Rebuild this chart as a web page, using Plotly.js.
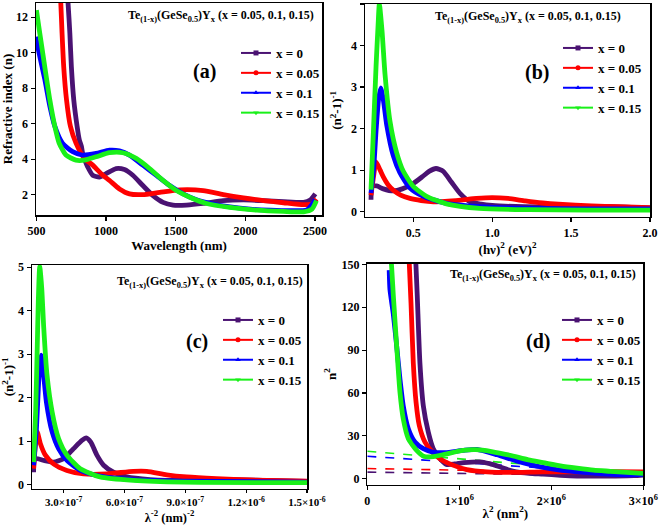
<!DOCTYPE html>
<html><head><meta charset="utf-8">
<script src="https://cdn.plot.ly/plotly-3.0.1.min.js"></script>
<style>html,body{margin:0;padding:0;background:#fff}#c{width:661px;height:525px}</style>
</head><body><div id="c"></div>
<script>
// ---------- data ----------
const seriesNames = ['x = 0', 'x = 0.05', 'x = 0.1', 'x = 0.15'];
const seriesColors = ['#4a1272', '#ff0000', '#0000ff', '#19f019'];
const seriesSymbols = ['square', 'circle', 'triangle-up', 'triangle-down'];

// (a) refractive index n vs wavelength (nm)
const a_lam0 = [718, 727, 740, 751, 768, 792, 808, 823, 832, 850, 868, 904, 952, 1000, 1072, 1132, 1192, 1264, 1337, 1409, 1481, 1577, 1697, 1841, 1986, 2130, 2274, 2418, 2466, 2502];
const a_n0   = [13.6, 12.8, 11.1, 9.2, 7.35, 5.85, 5.09, 4.72, 4.32, 3.9, 3.56, 3.09, 2.99, 3.18, 3.47, 3.41, 3.09, 2.51, 1.94, 1.56, 1.41, 1.41, 1.5, 1.66, 1.7, 1.66, 1.6, 1.56, 1.7, 2.04];
const a_lam1 = [668, 675, 684, 696, 716, 744, 784, 844, 904, 964, 1024, 1096, 1168, 1264, 1385, 1529, 1697, 1841, 1986, 2130, 2274, 2418, 2478, 2510];
const a_n1   = [13.8, 12.8, 11.1, 9.2, 7.35, 5.85, 4.9, 4.04, 3.66, 3.18, 2.8, 2.32, 2.04, 2.0, 2.13, 2.27, 2.23, 2.0, 1.81, 1.66, 1.54, 1.43, 1.47, 1.75];
const a_lam2 = [495, 524, 560, 596, 632, 687, 760, 832, 928, 1024, 1096, 1168, 1264, 1361, 1457, 1553, 1649, 1769, 1889, 2034, 2178, 2322, 2442, 2502];
const a_n2   = [10.9, 9.8, 8.5, 7.0, 5.85, 4.9, 4.42, 4.23, 4.32, 4.5, 4.46, 4.23, 3.66, 3.09, 2.51, 2.04, 1.71, 1.47, 1.31, 1.18, 1.12, 1.09, 1.14, 1.7];
const a_lam3 = [500, 524, 560, 596, 632, 663, 712, 784, 844, 928, 1024, 1120, 1216, 1312, 1409, 1505, 1601, 1721, 1889, 2082, 2274, 2418, 2478, 2510];
const a_n3   = [12.4, 11.1, 9.2, 7.35, 5.85, 4.9, 4.23, 3.94, 3.94, 4.13, 4.36, 4.36, 4.04, 3.47, 2.8, 2.23, 1.85, 1.5, 1.28, 1.12, 1.05, 1.03, 1.18, 1.66];

// (b) (n^2-1)^-1 vs (hv)^2 (eV)^2
const b_e0 = [0.232, 0.24, 0.268, 0.31, 0.373, 0.43, 0.5, 0.56, 0.6, 0.644, 0.69, 0.74, 0.796, 0.859, 0.93, 1.0, 1.2, 1.4, 1.6, 1.75, 1.9, 2.0];
const b_v0 = [0.29, 0.61, 0.62, 0.55, 0.5, 0.55, 0.68, 0.85, 0.97, 1.04, 0.97, 0.72, 0.44, 0.24, 0.18, 0.15, 0.12, 0.11, 0.12, 0.12, 0.1, 0.09];
const b_e1 = [0.232, 0.25, 0.264, 0.29, 0.31, 0.34, 0.373, 0.42, 0.479, 0.55, 0.627, 0.7, 0.8, 0.9, 1.0, 1.1, 1.21, 1.32, 1.42, 1.63, 1.8, 2.0];
const b_v1 = [0.4, 0.9, 1.2, 1.0, 0.84, 0.65, 0.52, 0.4, 0.32, 0.27, 0.24, 0.25, 0.28, 0.32, 0.34, 0.32, 0.26, 0.21, 0.18, 0.14, 0.12, 0.1];
const b_e2 = [0.232, 0.25, 0.265, 0.28, 0.294, 0.31, 0.332, 0.373, 0.415, 0.479, 0.563, 0.71, 0.92, 1.23, 1.6, 2.0];
const b_v2 = [0.45, 1.1, 2.0, 2.7, 2.98, 2.7, 2.08, 1.35, 0.94, 0.57, 0.37, 0.2, 0.12, 0.08, 0.07, 0.065];
const b_e3 = [0.232, 0.247, 0.264, 0.277, 0.285, 0.302, 0.321, 0.353, 0.394, 0.436, 0.5, 0.584, 0.71, 0.92, 1.23, 1.6, 2.0];
const b_v3 = [0.53, 1.9, 3.5, 4.5, 5.0, 4.35, 3.3, 2.16, 1.43, 0.98, 0.61, 0.37, 0.19, 0.08, 0.05, 0.04, 0.04];

// (c) (n^2-1)^-1 vs lambda^-2 (nm)^-2
const c_l0 = [1.52e-7, 1.59e-7, 2.02e-7, 2.5e-7, 3.0e-7, 3.49e-7, 3.9e-7, 4.11e-7, 4.34e-7, 4.64e-7, 4.97e-7, 5.46e-7, 6.11e-7, 7.26e-7, 9.72e-7, 1.136e-6, 1.3e-6, 1.5e-6];
const c_v0 = [0.29, 0.6, 0.56, 0.52, 0.6, 0.83, 1.02, 1.08, 0.98, 0.68, 0.45, 0.29, 0.18, 0.12, 0.1, 0.12, 0.1, 0.08];
const c_l1 = [1.52e-7, 1.69e-7, 1.85e-7, 2.1e-7, 2.5e-7, 3.16e-7, 3.98e-7, 5.13e-7, 6.44e-7, 7.1e-7, 8.08e-7, 9.07e-7, 1.054e-6, 1.218e-6, 1.5e-6];
const c_v1 = [0.37, 1.22, 0.95, 0.68, 0.48, 0.33, 0.25, 0.25, 0.31, 0.31, 0.23, 0.18, 0.14, 0.11, 0.085];
const c_l2 = [1.52e-7, 1.66e-7, 1.75e-7, 1.82e-7, 1.89e-7, 1.98e-7, 2.15e-7, 2.43e-7, 2.75e-7, 3.16e-7, 3.82e-7, 4.8e-7, 6.44e-7, 8.9e-7, 1.5e-6];
const c_v2 = [0.45, 1.3, 2.2, 2.75, 2.98, 2.68, 1.9, 1.22, 0.83, 0.56, 0.33, 0.2, 0.12, 0.085, 0.06];
const c_l3 = [1.52e-7, 1.62e-7, 1.69e-7, 1.75e-7, 1.82e-7, 1.92e-7, 2.02e-7, 2.18e-7, 2.43e-7, 2.75e-7, 3.16e-7, 3.82e-7, 4.8e-7, 6.44e-7, 8.9e-7, 1.5e-6];
const c_v3 = [0.52, 1.68, 2.98, 4.2, 5.02, 4.52, 3.6, 2.52, 1.68, 1.06, 0.68, 0.37, 0.18, 0.1, 0.06, 0.05];

// (d) n^2 vs lambda^2 (nm^2)
const d_l0 = [0.525e6, 0.543e6, 0.572e6, 0.609e6, 0.663e6, 0.717e6, 0.79e6, 0.86e6, 0.95e6, 1.05e6, 1.22e6, 1.33e6, 1.44e6, 1.53e6, 1.62e6, 1.76e6, 1.91e6, 2.1e6, 2.28e6, 2.5e6, 2.7e6, 2.9e6, 3.0e6];
const d_v0 = [155, 128, 81, 51, 32.6, 21, 14, 10, 10.3, 11.2, 11.8, 10.5, 8.3, 6.3, 4.8, 3.8, 3.2, 2.4, 1.9, 1.8, 1.9, 2.2, 2.6];
const d_l1 = [0.45e6, 0.475e6, 0.5e6, 0.53e6, 0.565e6, 0.627e6, 0.717e6, 0.8e6, 0.93e6, 1.08e6, 1.3e6, 1.55e6, 1.91e6, 2.28e6, 2.64e6, 3.0e6];
const d_v1 = [160, 123, 81, 53.5, 37.2, 25.6, 18, 13.5, 9.5, 6.4, 4.8, 4.4, 4.8, 4.8, 5.0, 4.8];
const d_l2 = [0.238e6, 0.246e6, 0.283e6, 0.319e6, 0.355e6, 0.391e6, 0.446e6, 0.518e6, 0.609e6, 0.72e6, 0.85e6, 1.04e6, 1.19e6, 1.41e6, 1.62e6, 1.91e6, 2.2e6, 2.49e6, 2.86e6, 3.0e6];
const d_v2 = [146, 132.6, 115, 93, 69.8, 51, 34.9, 25.6, 21, 18.5, 18.3, 19.8, 20.5, 16.8, 12.5, 8.0, 5.3, 3.8, 2.7, 3.0];
const d_l3 = [0.257e6, 0.264e6, 0.283e6, 0.319e6, 0.355e6, 0.391e6, 0.446e6, 0.536e6, 0.62e6, 0.72e6, 0.85e6, 1.04e6, 1.18e6, 1.35e6, 1.55e6, 1.75e6, 1.91e6, 2.1e6, 2.28e6, 2.46e6, 2.64e6, 2.82e6, 3.0e6];
const d_v3 = [155, 148.8, 128, 93, 60.5, 41.9, 28, 19.8, 15.5, 15.5, 17.2, 19.8, 20.3, 19, 16.4, 13.2, 11.3, 9, 7.4, 6, 5.2, 4.4, 3.7];
// (d) dashed linear fits
const d_fitX = [0, 3.0e6];
const d_fit0 = [4.6, 1.9];
const d_fit1 = [7.1, 3.8];
const d_fit2 = [15.7, 2.8];
const d_fit3 = [19.2, 3.3];

// tick labels
const c_tickVals = [3e-7, 6e-7, 9e-7, 1.2e-6, 1.5e-6];
const c_tickText = ['3.0×10<sup>-7</sup>', '6.0×10<sup>-7</sup>', '9.0×10<sup>-7</sup>', '1.2×10<sup>-6</sup>', '1.5×10<sup>-6</sup>'];
const d_tickVals = [0, 1e6, 2e6, 3e6];
const d_tickText = ['0', '1×10<sup>6</sup>', '2×10<sup>6</sup>', '3×10<sup>6</sup>'];
const compText = 'Te<sub>(1-x)</sub>(GeSe<sub>0.5</sub>)Y<sub>x</sub> (x = 0.05, 0.1, 0.15)';
const panelLabels = ['(a)', '(b)', '(c)', '(d)'];

// ---------- build ----------
const SERIF = 'Liberation Serif';
const panels = [
  {xs: [a_lam0, a_lam1, a_lam2, a_lam3], ys: [a_n0, a_n1, a_n2, a_n3]},
  {xs: [b_e0, b_e1, b_e2, b_e3], ys: [b_v0, b_v1, b_v2, b_v3]},
  {xs: [c_l0, c_l1, c_l2, c_l3], ys: [c_v0, c_v1, c_v2, c_v3]},
  {xs: [d_l0, d_l1, d_l2, d_l3], ys: [d_v0, d_v1, d_v2, d_v3]}
];
const fits = [d_fit0, d_fit1, d_fit2, d_fit3];
const traces = [];
panels.forEach((p, pi) => {
  const ax = pi === 0 ? '' : String(pi + 1);
  const lg = pi === 0 ? 'legend' : 'legend' + (pi + 1);
  if (pi === 3) {
    fits.forEach((f, si) => traces.push({
      x: d_fitX, y: f, xaxis: 'x4', yaxis: 'y4', mode: 'lines', showlegend: false,
      line: {color: seriesColors[si], width: 1.6, dash: 'dash'}, hoverinfo: 'skip'
    }));
  }
  p.xs.forEach((xv, si) => {
    traces.push({
      x: xv, y: p.ys[si], xaxis: 'x' + ax, yaxis: 'y' + ax, mode: 'lines',
      line: {color: seriesColors[si], width: 4.8, shape: 'spline', smoothing: 0.6},
      showlegend: false, legendgroup: 'g' + pi + si
    });
  });
  seriesNames.forEach((nm, si) => traces.push({
    x: [null], y: [null], xaxis: 'x' + ax, yaxis: 'y' + ax, mode: 'lines+markers', name: nm,
    legend: lg, legendgroup: 'g' + pi + si,
    line: {color: seriesColors[si], width: 2},
    marker: {color: seriesColors[si], symbol: seriesSymbols[si], size: 5}
  }));
});

const tickFont = {family: SERIF, size: 12, color: '#000', weight: 'bold'};
const titleFont = {family: SERIF, size: 13, color: '#000', weight: 'bold'};
function axis(extra) {
  return Object.assign({
    showline: true, mirror: true, linecolor: '#000', linewidth: 1.5,
    ticks: 'outside', ticklen: 4, tickwidth: 1.2, tickcolor: '#000',
    showgrid: false, zeroline: false, tickfont: tickFont, automargin: false
  }, extra);
}
const W = 661, H = 525;
const px = (a, b) => [a / W, b / W];
const py = (top, bot) => [1 - bot / H, 1 - top / H];

const legendBase = {bgcolor: 'rgba(0,0,0,0)', font: {family: SERIF, size: 13, color: '#000', weight: 'bold'},
  xanchor: 'left', yanchor: 'top', itemwidth: 30, tracegroupgap: 0};

const layout = {
  width: W, height: H, margin: {l: 0, r: 0, t: 0, b: 0},
  paper_bgcolor: '#fff', plot_bgcolor: '#fff', font: {family: SERIF, color: '#000', weight: 'bold'},
  xaxis: axis({domain: px(36, 322), anchor: 'y', range: [497, 2550], tickvals: [500, 1000, 1500, 2000, 2500],
    title: {text: 'Wavelength (nm)', font: titleFont, standoff: 2}}),
  yaxis: axis({domain: py(3, 215), anchor: 'x', range: [0.85, 12.8], tickvals: [2, 4, 6, 8, 10, 12],
    title: {text: 'Refractive index (n)', font: titleFont, standoff: 6}}),
  xaxis2: axis({domain: px(365, 650), anchor: 'y2', range: [0.194, 2.0], tickvals: [0.5, 1.0, 1.5, 2.0], tickformat: '.1f',
    title: {text: '(hν)<sup>2</sup> (eV)<sup>2</sup>', font: titleFont, standoff: 6}}),
  yaxis2: axis({domain: py(4, 216.7), anchor: 'x2', range: [-0.12, 5.0], tickvals: [0, 1, 2, 3, 4, 5],
    title: {text: '(n<sup>2</sup>-1)<sup>-1</sup>', font: titleFont, standoff: 6}}),
  xaxis3: axis({domain: px(32, 307), anchor: 'y3', range: [1.44e-7, 1.5e-6], tickvals: c_tickVals, ticktext: c_tickText,
    ticklen: 3, tickfont: {family: SERIF, size: 11, color: '#000', weight: 'bold'},
    title: {text: 'λ<sup>-2</sup> (nm)<sup>-2</sup>', font: {family: SERIF, size: 12.5, color: '#000', weight: 'bold'}, standoff: 5}}),
  yaxis3: axis({domain: py(265, 488.7), anchor: 'x3', range: [-0.09, 5.05], tickvals: [0, 1, 2, 3, 4, 5],
    title: {text: '(n<sup>2</sup>-1)<sup>-1</sup>', font: titleFont, standoff: 8}}),
  xaxis4: axis({domain: px(367.3, 643.3), anchor: 'y4', range: [0, 3.0e6], tickvals: d_tickVals, ticktext: d_tickText,
    title: {text: 'λ<sup>2</sup> (nm<sup>2</sup>)', font: titleFont, standoff: 2}}),
  yaxis4: axis({domain: py(263.7, 484.7), anchor: 'x4', range: [-4.2, 150.5], tickvals: [0, 30, 60, 90, 120, 150],
    title: {text: 'n<sup>2</sup>', font: titleFont, standoff: 2}}),
  legend: Object.assign({}, legendBase, {x: 236 / W, y: 1 - 38 / H}),
  legend2: Object.assign({}, legendBase, {x: 558 / W, y: 1 - 33 / H}),
  legend3: Object.assign({}, legendBase, {x: 218 / W, y: 1 - 305 / H}),
  legend4: Object.assign({}, legendBase, {x: 557 / W, y: 1 - 305 / H}),
  annotations: []
};
const compPos = [[0.98, 0.94], [0.905, 0.939], [0.993, 0.924], [0.98, 0.949]];
const labPos = [[0.59, 0.675], [0.602, 0.68], [0.599, 0.656], [0.62, 0.646]];
for (let i = 0; i < 4; i++) {
  const ax = i === 0 ? '' : String(i + 1);
  layout.annotations.push({xref: 'x' + ax + ' domain', yref: 'y' + ax + ' domain', x: compPos[i][0], y: compPos[i][1],
    xanchor: 'right', yanchor: 'middle', showarrow: false, text: compText,
    font: {family: SERIF, size: 12, color: '#000', weight: 'bold'}});
  layout.annotations.push({xref: 'x' + ax + ' domain', yref: 'y' + ax + ' domain', x: labPos[i][0], y: labPos[i][1],
    xanchor: 'center', yanchor: 'middle', showarrow: false, text: panelLabels[i],
    font: {family: SERIF, size: 20, color: '#000', weight: 'bold'}});
}
Plotly.newPlot('c', traces, layout, {displayModeBar: false, staticPlot: true});
</script></body></html>
